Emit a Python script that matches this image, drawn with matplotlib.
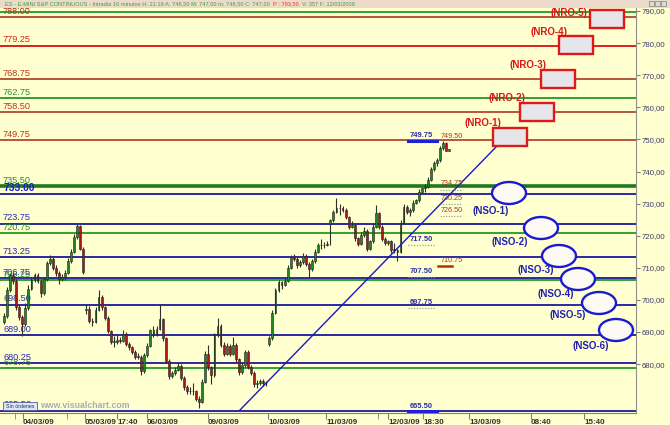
import matplotlib.pyplot as plt
import numpy as np
from matplotlib.patches import Rectangle, Ellipse
from matplotlib.ticker import FuncFormatter

plt.rcParams['font.family'] = ['Liberation Sans', 'DejaVu Sans']

# ---- velas (ES 10 min, 03/03 -> 12/03/2009) ----
apertura = [
    693.25, 695.00, 703.00, 707.75, 706.00, 697.75, 694.75,  # 03/03
    692.50, 697.50, 703.50, 706.25, 707.75, 706.00, 702.25, 706.50, 711.50, 712.75,
    710.00, 708.25, 706.50, 707.00, 708.50, 712.25, 715.00, 719.75, 723.00, 716.00,  # 04/03
    696.75, 697.25, 693.50, 693.25, 697.00, 700.75, 697.75, 694.50, 690.25, 687.00,
    687.00, 687.50, 687.25, 689.50, 686.25, 685.25, 683.75, 682.25, 682.25, 677.75,  # 05/03
    682.75, 685.75, 690.50, 689.25, 691.00, 694.00, 688.00, 681.00, 676.25, 677.25,
    678.25, 679.50, 675.75, 672.75, 671.50, 671.50, 671.50, 669.25, 668.25, 674.50,  # 06/03
    683.25, 679.00, 676.50, 689.00, 692.00, 686.00, 683.25, 685.75, 683.25, 686.00,
    681.50, 677.50, 679.75, 683.75, 679.25, 677.25, 673.75, 674.25, 674.75, 674.00,  # 09/03
    686.25, 688.00, 696.00, 703.00, 705.50, 704.75, 706.00, 710.00, 713.25, 712.75,
    710.75, 711.75, 713.75, 711.25, 709.50, 712.00, 715.00, 717.00, 717.00, 717.25,  # 10/03
    723.75, 724.75, 727.50, 728.50, 728.75, 728.00, 725.75, 722.75, 723.25, 719.25,
    717.50, 720.25, 721.50, 716.00, 718.25, 722.75, 727.00, 722.75, 719.00,  # 11/03
    717.75, 718.25, 715.50, 715.50, 715.00, 724.00, 729.00, 727.50, 728.00, 730.25,
    731.00, 733.75, 734.75, 735.25, 737.50, 740.75, 742.50, 743.50, 747.25, 749.00, 746.50,  # 12/03
]
maximo = [
    696.00, 704.00, 708.50, 708.25, 706.50, 698.50, 695.25,
    699.00, 704.50, 707.00, 708.50, 708.25, 706.50, 707.25, 712.25, 714.00, 713.25,
    710.75, 709.00, 708.00, 709.25, 713.00, 715.75, 720.50, 723.75, 723.25, 716.50,
    698.75, 698.00, 694.25, 697.75, 703.00, 701.50, 698.25, 695.00, 690.75, 688.75,
    689.00, 688.50, 690.50, 690.00, 686.75, 685.75, 684.25, 683.50, 682.75, 683.50,
    686.50, 691.00, 692.00, 692.00, 698.75, 694.50, 688.50, 681.50, 678.00, 679.00,
    680.75, 680.00, 676.25, 673.50, 673.00, 674.00, 672.00, 670.00, 675.25, 684.00,
    686.00, 679.50, 689.75, 694.50, 692.50, 686.75, 686.50, 686.25, 688.50, 686.50,
    682.00, 680.50, 684.50, 684.25, 679.75, 677.75, 675.00, 675.50, 675.25, 674.75,
    688.75, 696.75, 703.75, 706.25, 706.00, 706.75, 710.75, 714.00, 714.25, 713.25,
    712.50, 714.50, 714.25, 711.75, 712.75, 715.75, 717.75, 719.00, 718.00, 718.25,
    725.25, 728.00, 731.75, 730.00, 729.25, 728.50, 726.25, 724.50, 723.75, 719.75,
    721.00, 722.75, 722.00, 718.75, 723.50, 729.50, 727.50, 723.25, 719.50,
    718.75, 718.75, 717.75, 716.00, 724.75, 729.75, 729.50, 728.75, 731.00, 731.50,
    734.50, 735.25, 736.25, 738.25, 741.50, 743.25, 744.25, 748.00, 749.50, 749.25, 747.00,
]
minimo = [
    692.50, 694.50, 702.50, 705.00, 697.00, 693.75, 688.75,
    692.00, 697.00, 703.00, 705.50, 705.25, 700.75, 701.50, 706.00, 710.75, 709.25,
    707.50, 705.00, 706.00, 706.25, 708.00, 711.50, 714.50, 719.00, 715.50, 708.00,
    695.50, 692.75, 691.75, 692.75, 696.50, 697.00, 693.75, 689.75, 686.25, 685.25,
    686.25, 686.50, 686.75, 685.50, 684.50, 683.00, 681.50, 681.50, 676.75, 677.25,
    682.25, 685.25, 688.50, 688.75, 690.50, 687.25, 680.25, 675.50, 675.75, 676.50,
    677.75, 675.00, 672.00, 670.75, 670.75, 670.50, 668.50, 666.25, 667.75, 674.00,
    678.25, 673.75, 676.00, 688.50, 685.25, 682.50, 682.75, 682.50, 682.75, 680.75,
    676.75, 677.00, 679.25, 678.50, 676.50, 672.75, 672.50, 673.50, 673.25, 673.25,
    685.50, 687.50, 695.50, 702.50, 703.25, 704.25, 705.50, 709.50, 712.00, 710.00,
    710.25, 711.25, 710.50, 707.25, 709.00, 711.50, 714.50, 716.00, 716.25, 716.75,
    717.25, 724.25, 727.00, 726.50, 727.25, 725.25, 722.00, 722.25, 718.50, 716.75,
    717.00, 719.75, 715.25, 715.50, 717.75, 722.25, 722.00, 718.25, 717.00,
    717.25, 714.75, 714.75, 712.00, 714.50, 723.50, 726.75, 726.00, 727.50, 729.75,
    730.50, 733.25, 733.75, 734.75, 737.00, 740.25, 741.75, 743.00, 746.75, 746.25, 746.50,
]
cierre = [
    695.00, 703.00, 707.75, 706.00, 697.75, 694.75, 692.50,
    697.50, 703.50, 706.25, 707.75, 706.00, 702.25, 706.50, 711.50, 712.75, 710.00,
    708.25, 706.50, 707.00, 708.50, 712.25, 715.00, 719.75, 723.00, 716.00, 708.75,
    697.25, 693.50, 693.25, 697.00, 700.75, 697.75, 694.50, 690.25, 687.00, 687.00,
    687.50, 687.25, 689.50, 686.25, 685.25, 683.75, 682.25, 682.25, 677.75, 682.75,
    685.75, 690.50, 689.25, 691.00, 694.00, 688.00, 681.00, 676.25, 677.25, 678.25,
    679.50, 675.75, 672.75, 671.50, 671.50, 671.50, 669.25, 668.25, 674.50, 683.25,
    679.00, 676.50, 689.00, 692.00, 686.00, 683.25, 685.75, 683.25, 686.00, 681.50,
    677.50, 679.75, 683.75, 679.25, 677.25, 673.75, 674.25, 674.75, 674.00, 674.00,
    688.00, 696.00, 703.00, 705.50, 704.75, 706.00, 710.00, 713.25, 712.75, 710.75,
    711.75, 713.75, 711.25, 709.50, 712.00, 715.00, 717.00, 717.00, 717.25, 717.50,
    724.75, 727.50, 728.50, 728.75, 728.00, 725.75, 722.75, 723.25, 719.25, 717.50,
    720.25, 721.50, 716.00, 718.25, 722.75, 727.00, 722.75, 719.00, 717.75,
    718.25, 715.50, 715.50, 715.00, 724.00, 729.00, 727.50, 728.00, 730.25, 731.00,
    733.75, 734.75, 735.25, 737.50, 740.75, 742.50, 743.50, 747.25, 749.00, 746.50, 747.00,
]

# ---- niveles horizontales ----
niveles = [789.75, 788.00, 779.25, 768.75, 762.75, 758.50, 749.75, 735.50, 733.00,
           723.75, 720.75, 713.25, 706.75, 706.25, 698.50, 689.00, 680.25, 678.75, 665.50]
tipo = ['v', 'm', 'r', 'm', 'v', 'm', 'm', 'V', 'A',
        'a', 'v', 'a', 'a', 'v', 'a', 'a', 'a', 'v', 'a']

etiq_azul = [749.75, 717.50, 707.50, 697.75, 665.50]
etiq_marron = [749.50, 734.75, 730.25, 726.50, 710.75]

nro_txt = ['(NRO-1)', '(NRO-2)', '(NRO-3)', '(NRO-4)', '(NRO-5)']
nso_txt = ['(NSO-1)', '(NSO-2)', '(NSO-3)', '(NSO-4)', '(NSO-5)', '(NSO-6)']

etiquetas_x = ['04/03/09', '05/03/09', '17:40', '06/03/09', '09/03/09', '10/03/09',
               '11/03/09', '12/03/09', '18:30', '13/03/09', '08:40', '15:40']

cabecera = [('ES - E-MINI S&P CONTINUOUS - Intradía 10 minutos H: 21:19 A: 746,50 M: 747,00 '
             'm: 746,50 C: 747,00', '#3ca03c'),
            ('P : 793,50', '#e04010'),
            ('V: 357 F: 12/03/2009', '#3ca03c')]

# ---- posiciones de dibujo (pixeles de la imagen) ----
W, H = 670, 425
def px_x(px):
    return (px - 4) / 3.05
def px_y(py):
    return 790 - (py - 11) / 3.21

tick_px = [23, 85, 117, 147, 208, 268, 326, 388, 423, 469, 531, 584]
nro_box = [(493, 136.5), (520, 112), (541, 78.5), (559, 45), (590, 18.5)]
nro_lab = [(482.5, 122.5), (507, 98), (528, 65), (549, 32), (569, 13)]
nso_ell = [(509, 193), (541, 228), (559, 256), (578, 279), (599, 303), (616, 330)]
nso_lab = [(491, 211), (510, 242), (536, 270), (556, 294), (568, 314.5), (591, 346)]
tendencia = [(240, 410), (497, 146)]

fondo = '#ffffd0'
col_linea = {'v': '#33a033', 'V': '#1e7a1e', 'm': '#b8563a', 'r': '#dc2020', 'a': '#2a2aa0', 'A': '#2a2aa0'}
col_texto = {'v': '#2e8a2e', 'V': '#2e8a2e', 'm': '#c03418', 'r': '#d82020', 'a': '#2a2ab0', 'A': '#1a1ad0'}

fig = plt.figure(figsize=(W / 100, H / 100), dpi=100, facecolor=fondo)
ax = fig.add_axes([0, 12 / H, 636 / W, 405 / H])
ax.set_facecolor(fondo)
ax.set_xlim(px_x(0), px_x(636))
ax.set_ylim(px_y(413), px_y(8))

# niveles + etiquetas a la izquierda
for nv, t in zip(niveles, tipo):
    lw = 2.6 if t == 'V' else 1.4
    ax.axhline(nv, color=col_linea[t], lw=lw, zorder=1)
    if t == 'A':
        ax.text(px_x(3), nv + 0.3, f'{nv:.2f}', color=col_texto[t], fontsize=7.4,
                fontweight='bold', va='bottom', ha='left', zorder=2)
    else:
        ax.text(px_x(3), nv + 0.4, f'{nv:.2f}', color=col_texto[t], fontsize=6.6,
                va='bottom', ha='left', zorder=2)

# velas
x = np.arange(len(cierre))
o = np.array(apertura)
c = np.array(cierre)
sube = c >= o
ax.vlines(x, minimo, maximo, color='#303030', lw=0.8, zorder=3)
alto = np.maximum(np.abs(c - o), 0.25)
ax.bar(x, alto, bottom=np.minimum(o, c), width=0.6,
       color=np.where(sube, '#1f8a1f', '#a81818'), edgecolor='#202020', lw=0.4, zorder=4)

# linea de tendencia
ax.plot([px_x(p[0]) for p in tendencia], [px_y(p[1]) for p in tendencia],
        color='#1818c8', lw=1.0, zorder=4)

# etiquetas pequenas junto al precio
for nv in etiq_azul:
    ax.text(px_x(410), nv + 0.3, f'{nv:.2f}', color='#2a2ab0', fontsize=5.4,
            fontweight='bold', va='bottom', ha='left', zorder=5)
    if nv in (749.75, 665.50):
        ax.plot([px_x(408), px_x(437)], [nv - 0.2, nv - 0.2], color='#2020d0', lw=2.2, zorder=5)
    else:
        ax.plot([px_x(408), px_x(435)], [nv - 0.4, nv - 0.4], color='#909090', lw=0.8,
                ls=(0, (1, 1.5)), zorder=5)
for nv in etiq_marron:
    ax.text(px_x(441), nv + 0.3, f'{nv:.2f}', color='#a03a20', fontsize=5.2,
            va='bottom', ha='left', zorder=5)
    if nv == 710.75:
        ax.plot([px_x(438), px_x(452)], [nv - 0.3, nv - 0.3], color='#b03010', lw=1.8, zorder=5)
    elif nv != 749.50:
        ax.plot([px_x(440), px_x(462)], [nv - 0.4, nv - 0.4], color='#909090', lw=0.8,
                ls=(0, (1, 1.5)), zorder=5)

# zonas NRO (rectangulos) y NSO (elipses)
for (bx, by), (lx, ly), t in zip(nro_box, nro_lab, nro_txt):
    ax.add_patch(Rectangle((px_x(bx), px_y(by + 9)), 34 / 3.05, 18 / 3.21,
                           facecolor='#e6e6ea', edgecolor='#e01818', lw=1.7, zorder=6))
    ax.text(px_x(lx), px_y(ly), t, color='#d81818', fontsize=7, fontweight='bold',
            ha='center', va='center', zorder=6)
for (ex, ey), (lx, ly), t in zip(nso_ell, nso_lab, nso_txt):
    ax.add_patch(Ellipse((px_x(ex), px_y(ey)), 34 / 3.05, 22 / 3.21,
                         facecolor='#fdfaf4', edgecolor='#1a1ad0', lw=1.7, zorder=6))
    ax.text(px_x(lx), px_y(ly), t, color='#2020b0', fontsize=7, fontweight='bold',
            ha='center', va='center', zorder=6)

# ejes
for s in ['top', 'left']:
    ax.spines[s].set_visible(False)
ax.spines['right'].set_color('#909090')
ax.spines['bottom'].set_color('#808080')
ax.yaxis.tick_right()
ax.set_yticks(np.arange(680, 791, 10))
ax.yaxis.set_major_formatter(FuncFormatter(lambda v, p: f'{v:.2f}'.replace('.', ',')))
ax.tick_params(axis='y', length=3, pad=1, labelsize=5.6, colors='#808080',
               labelcolor='#3c3c64')
ax.set_xticks([px_x(p) for p in tick_px])
ax.set_xticklabels(etiquetas_x, fontweight='bold')
plt.setp(ax.get_xticklabels(), ha='left')
ax.set_xticks([px_x(p) for p in [15, 67, 378]], minor=True)
ax.tick_params(axis='x', which='both', length=4, pad=0.5, labelsize=5.8,
               colors='#808080', labelcolor='#303030')

# cabecera
def fig_rect(x0, y0, w, h, **kw):
    return Rectangle((x0 / W, 1 - (y0 + h) / H), w / W, h / H, transform=fig.transFigure, **kw)

fig.add_artist(fig_rect(0, 0, W, 8, facecolor='#ecdacb', edgecolor='none', zorder=10))
renderer = fig.canvas.get_renderer()
xpos = 5
for texto, col in cabecera:
    t = fig.text(xpos / W, 1 - 4.2 / H, texto, color=col, fontsize=4.1, va='center', zorder=11)
    xpos = t.get_window_extent(renderer).x1 + 3
for bx in [649, 655, 661]:
    fig.add_artist(fig_rect(bx, 1, 5, 5, facecolor='#dcdcdc', edgecolor='#808080', lw=0.5, zorder=11))

# marca de agua y caja "Sin órdenes"
fig.add_artist(fig_rect(3, 402, 34, 8, facecolor='#dfe6f2', edgecolor='#5060a0', lw=0.6, zorder=10))
fig.text(20 / W, 1 - 406 / H, 'Sin órdenes', color='#203080', fontsize=3.8, ha='center',
         va='center', zorder=11)
fig.text(40 / W, 1 - 406 / H, 'www.visualchart.com', color='#a8aab8', fontsize=6.3,
         fontweight='bold', va='center', zorder=11)

fig.savefig('out.png', dpi=100, facecolor=fondo)
